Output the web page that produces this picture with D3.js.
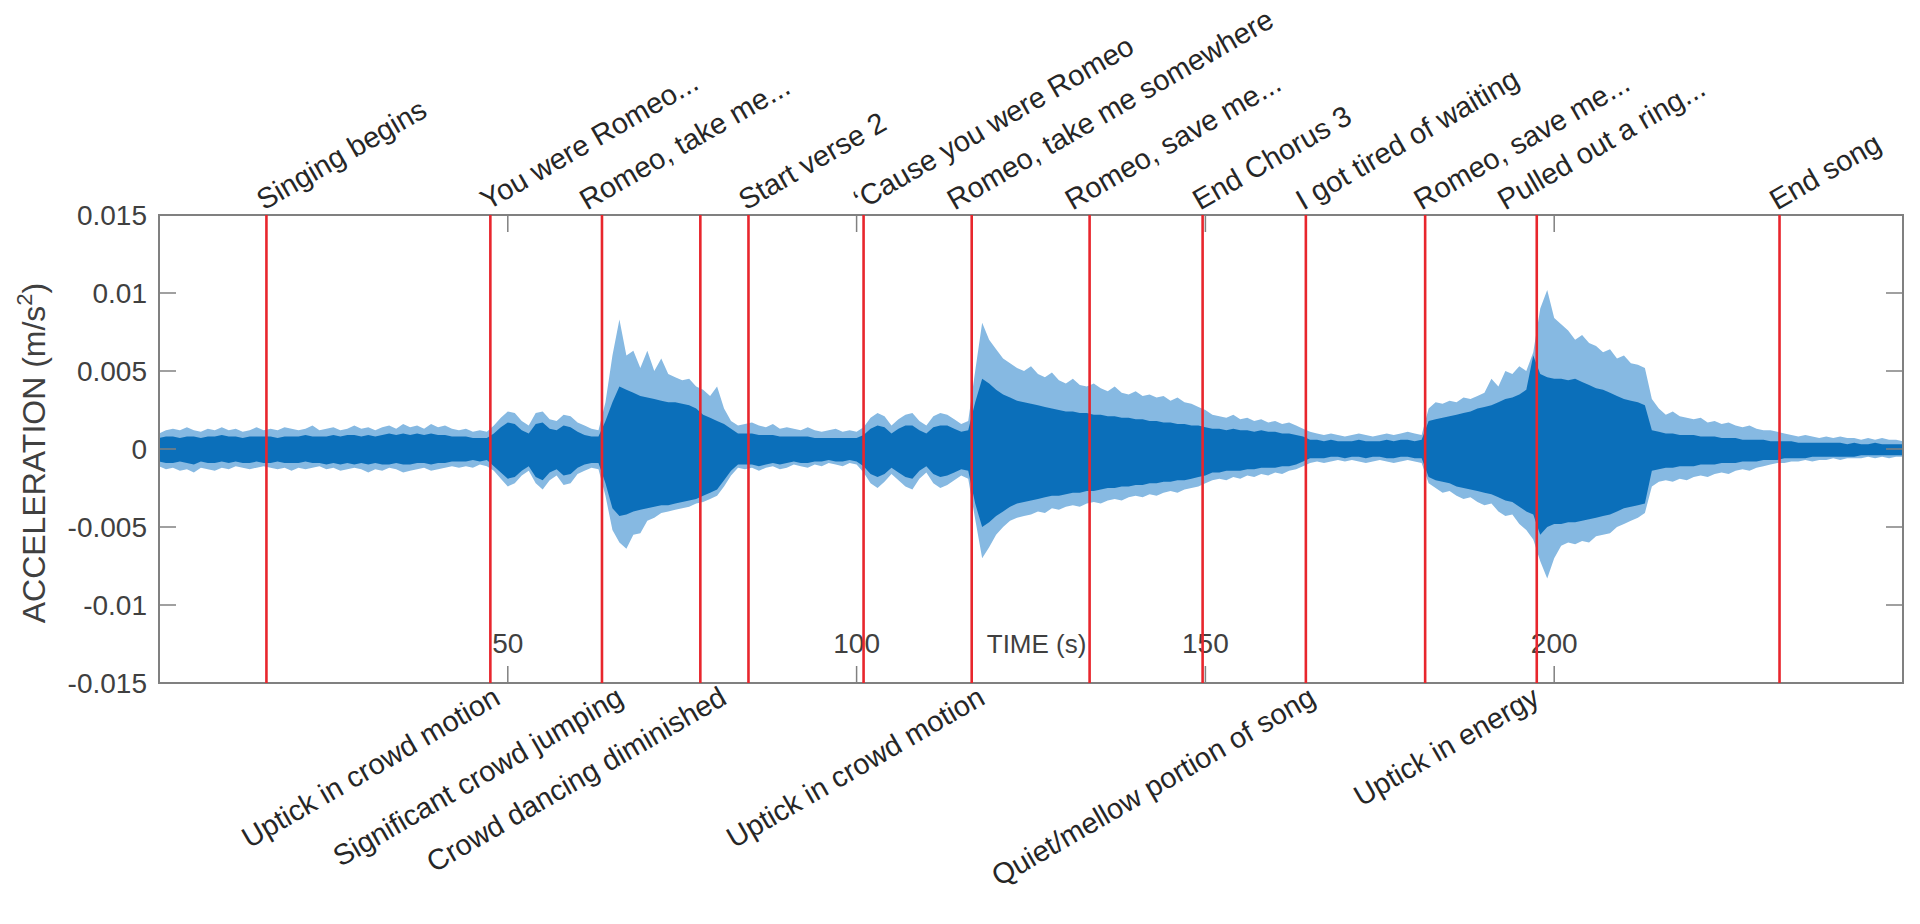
<!DOCTYPE html>
<html lang="en">
<head>
<meta charset="UTF-8">
<title>Crowd acceleration during the song</title>
<script src="https://d3js.org/d3.v7.min.js"></script>
<style>
  body { margin: 0; background: #fff; }
  svg text { font-family: Arial, "Liberation Sans", sans-serif; }
</style>
</head>
<body>
<div id="chart"></div>
<script>
// envelope of the acceleration trace, one value per second (0..250 s),
// in units of 1e-4 m/s^2. "Peak" = outer light spikes, "Core" = dense dark band.
const sampleStep = 1;
const upperPeak = [
  10,12,13,12,14,12,11,13,12,14, 12,13,11,12,14,12,13,12,14,13,
  12,13,15,12,13,14,12,13,15,13, 14,12,14,15,13,16,14,15,13,16,
  14,15,13,12,13,11,12,11,15,20, 24,23,18,15,23,24,19,18,22,21,
  17,15,13,12,30,60,83,60,63,52, 63,50,58,48,46,44,45,40,38,34,
  40,26,18,15,16,17,15,14,16,13, 14,13,12,14,12,11,12,13,11,12,
  11,14,20,23,21,15,19,22,23,18, 15,21,23,22,19,16,18,50,81,70,
  64,58,55,52,50,53,48,46,49,44, 42,45,41,40,42,39,37,40,36,35,
  37,34,35,33,34,31,33,30,29,27, 25,22,21,20,22,19,20,18,19,17,
  18,16,17,15,13,11,10,9,10,9,   8,9,10,9,8,9,10,9,10,11,
  10,9,26,30,29,31,30,33,32,34,  36,45,40,50,48,53,50,62,90,102,
  84,80,76,70,73,68,66,62,64,58, 60,55,54,52,32,26,22,24,21,20,
  19,20,17,18,16,17,15,14,15,13, 12,12,11,10,9,8,9,8,7,8,
  7,8,7,7,6,7,6,7,6,6, 5
];
const lowerPeak = [
  -11,-13,-12,-14,-13,-15,-12,-13,-14,-12, -13,-11,-12,-13,-12,-11,-12,-13,-12,-14,
  -12,-13,-12,-11,-13,-12,-14,-13,-12,-13, -15,-13,-14,-12,-13,-15,-14,-13,-12,-14,
  -13,-12,-11,-12,-11,-12,-10,-11,-14,-19, -24,-22,-17,-14,-22,-26,-20,-17,-23,-22,
  -16,-14,-12,-13,-30,-52,-60,-64,-55,-54, -46,-44,-41,-40,-39,-38,-37,-35,-34,-32,
  -30,-24,-17,-12,-13,-12,-14,-12,-11,-13, -12,-10,-11,-12,-10,-11,-9,-10,-11,-9,
  -10,-15,-22,-25,-21,-16,-20,-24,-26,-19, -15,-22,-25,-23,-20,-17,-19,-45,-70,-63,
  -55,-50,-46,-44,-43,-42,-40,-41,-38,-39, -37,-36,-37,-35,-34,-35,-33,-32,-33,-31,
  -30,-31,-29,-30,-28,-27,-28,-26,-25,-24, -22,-20,-19,-20,-18,-19,-17,-18,-16,-17,
  -15,-16,-14,-13,-11,-9,-8,-9,-8,-7,      -8,-7,-8,-9,-8,-7,-8,-9,-8,-7,
  -8,-9,-22,-25,-28,-27,-30,-32,-31,-34,   -36,-35,-40,-43,-42,-48,-52,-58,-72,-83,
  -70,-62,-60,-61,-59,-60,-56,-55,-54,-50, -48,-46,-44,-41,-24,-21,-20,-21,-19,-20,
  -18,-17,-18,-16,-15,-16,-14,-13,-14,-12, -11,-10,-9,-9,-8,-8,-7,-8,-7,-7,
  -6,-7,-6,-6,-6,-5,-6,-5,-6,-5, -5
];
const upperCore = [
  7,8,8,7,8,8,7,8,8,9,  8,8,7,8,8,8,8,7,8,8,
  8,9,8,8,8,9,8,9,9,8,  9,8,9,10,9,10,9,10,9,10,
  9,9,8,8,8,7,7,7,10,14, 17,16,12,10,16,17,13,12,15,14,
  11,9,8,8,18,30,40,38,36,34, 33,32,31,30,30,29,28,26,22,20,
  18,16,13,10,10,10,9,9,9,8, 8,8,8,8,7,7,7,7,7,7,
  7,9,13,15,14,10,13,15,15,12, 10,14,15,15,13,11,12,30,45,42,
  38,35,33,31,30,29,28,27,26,25, 24,24,23,23,22,22,21,21,20,20,
  19,19,18,18,17,17,16,16,15,15, 14,13,13,12,13,12,12,11,12,11,
  11,10,10,9,8,6,6,5,6,5, 5,5,6,5,5,5,6,5,6,6,
  5,6,18,19,20,21,22,23,24,26, 27,28,30,32,33,35,38,60,48,46,
  45,45,44,45,43,41,39,38,36,34, 32,31,30,28,12,11,10,10,9,9,
  9,8,8,8,7,7,7,6,6,6, 6,5,5,5,5,4,4,4,4,4,
  4,4,3,4,3,3,4,3,3,3, 3
];
const lowerCore = [
  -8,-9,-9,-8,-9,-10,-8,-9,-9,-8, -9,-8,-9,-9,-8,-9,-9,-8,-9,-9,
  -9,-8,-9,-9,-10,-9,-10,-9,-10,-9, -10,-9,-10,-10,-9,-10,-10,-9,-9,-10,
  -9,-9,-8,-8,-8,-7,-8,-7,-11,-15, -19,-18,-14,-11,-18,-20,-15,-13,-17,-16,
  -12,-10,-9,-9,-22,-38,-43,-42,-40,-39, -38,-37,-36,-36,-35,-34,-33,-32,-30,-28,
  -26,-20,-14,-10,-10,-10,-11,-10,-9,-10, -9,-8,-9,-9,-8,-8,-7,-8,-8,-7,
  -8,-11,-16,-18,-16,-12,-15,-18,-19,-14, -11,-16,-18,-17,-15,-13,-14,-35,-50,-47,
  -43,-40,-37,-35,-34,-33,-32,-31,-30,-30, -29,-28,-28,-27,-27,-26,-25,-25,-24,-24,
  -23,-23,-22,-22,-21,-21,-20,-20,-19,-18, -17,-15,-15,-14,-14,-14,-13,-13,-12,-12,
  -12,-11,-11,-10,-8,-6,-6,-6,-5,-5, -6,-5,-5,-6,-5,-5,-6,-6,-5,-5,
  -6,-6,-18,-20,-21,-22,-24,-25,-26,-27, -28,-29,-31,-33,-34,-37,-40,-42,-55,-50,
  -48,-48,-47,-47,-46,-45,-44,-43,-42,-40, -38,-37,-36,-35,-14,-13,-12,-12,-11,-11,
  -11,-10,-10,-10,-9,-9,-9,-8,-8,-8, -7,-7,-7,-6,-6,-6,-6,-5,-5,-5,
  -5,-5,-5,-5,-4,-4,-4,-4,-4,-4, -4
];

// red event markers (s)
const eventTimes = [15.4, 47.5, 63.5, 77.6, 84.5, 101.0, 116.5, 133.4, 149.6, 164.4, 181.5, 197.5, 232.3];

// song annotations above the axes
const topNoteTimes = [15.4, 47.5, 61.7, 84.5, 101.0, 114.4, 131.3, 149.6, 164.4, 181.3, 193.3, 232.3];
const topNoteLabels = ["Singing begins", "You were Romeo...", "Romeo, take me...", "Start verse 2",
  "\u2018Cause you were Romeo", "Romeo, take me somewhere", "Romeo, save me...", "End Chorus 3",
  "I got tired of waiting", "Romeo, save me...", "Pulled out a ring...", "End song"];

// crowd annotations below the axes
const bottomNoteTimes = [47.5, 65.2, 80.0, 117.0, 164.4, 196.5];
const bottomNoteLabels = ["Uptick in crowd motion", "Significant crowd jumping", "Crowd dancing diminished",
  "Uptick in crowd motion", "Quiet/mellow portion of song", "Uptick in energy"];

const xTicks = [50, 100, 150, 200];
const yTicks = [-0.015, -0.01, -0.005, 0, 0.005, 0.01, 0.015];
const yTickLabels = ["-0.015", "-0.01", "-0.005", "0", "0.005", "0.01", "0.015"];

const width = 1920, height = 924;
const margin = { top: 215, right: 17, bottom: 241, left: 159 };

const svg = d3.select("#chart").append("svg")
  .attr("width", width)
  .attr("height", height);

const x = d3.scaleLinear().domain([0, 250]).range([margin.left, width - margin.right]);
const y = d3.scaleLinear().domain([-0.015, 0.015]).range([height - margin.bottom, margin.top]);

const env = upperPeak.map((v, i) => ({
  t: i * sampleStep,
  hiP: v * 1e-4, loP: lowerPeak[i] * 1e-4,
  hiC: upperCore[i] * 1e-4, loC: lowerCore[i] * 1e-4
}));

const tickLen = 17;
const axisColor = "#808080";
const textColor = "#404040";
const noteSize = 29;

// tick labels (drawn first, red markers sit over them)
svg.selectAll(".ylab")
  .data(yTicks)
  .join("text")
  .attr("x", margin.left - 12)
  .attr("y", d => y(d))
  .attr("dy", "0.36em")
  .attr("text-anchor", "end")
  .attr("font-size", 28)
  .attr("fill", textColor)
  .text((d, i) => yTickLabels[i]);

svg.selectAll(".xlab")
  .data(xTicks)
  .join("text")
  .attr("x", d => x(d))
  .attr("y", 653)
  .attr("text-anchor", "middle")
  .attr("font-size", 28)
  .attr("fill", textColor)
  .text(d => d);

svg.append("text")
  .attr("x", x(125.8))
  .attr("y", 653)
  .attr("text-anchor", "middle")
  .attr("font-size", 26)
  .attr("fill", textColor)
  .text("TIME (s)");

const ylab = svg.append("text")
  .attr("transform", `translate(45,453) rotate(-90)`)
  .attr("text-anchor", "middle")
  .attr("font-size", 32)
  .attr("fill", textColor);
ylab.append("tspan").text("ACCELERATION (m/s");
ylab.append("tspan").attr("font-size", 22).attr("dy", -13).text("2");
ylab.append("tspan").attr("dy", 13).text(")");

// acceleration trace: light outer spikes, dark dense core
svg.append("path")
  .datum(env)
  .attr("fill", "#86b9e2")
  .attr("d", d3.area().x(d => x(d.t)).y0(d => y(d.loP)).y1(d => y(d.hiP)));

svg.append("path")
  .datum(env)
  .attr("fill", "#0b6fba")
  .attr("d", d3.area().x(d => x(d.t)).y0(d => y(d.loC)).y1(d => y(d.hiC)));

// axes box and inward ticks
svg.append("rect")
  .attr("x", x(0)).attr("y", y(0.015))
  .attr("width", x(250) - x(0)).attr("height", y(-0.015) - y(0.015))
  .attr("fill", "none").attr("stroke", axisColor).attr("stroke-width", 2);

const ticks = svg.append("g").attr("stroke", axisColor).attr("stroke-width", 1.5);
ticks.selectAll(".yl").data(yTicks).join("line")
  .attr("x1", x(0)).attr("x2", x(0) + tickLen)
  .attr("y1", d => y(d)).attr("y2", d => y(d));
ticks.selectAll(".yr").data(yTicks).join("line")
  .attr("x1", x(250) - tickLen).attr("x2", x(250))
  .attr("y1", d => y(d)).attr("y2", d => y(d));
ticks.selectAll(".xb").data(xTicks).join("line")
  .attr("x1", d => x(d)).attr("x2", d => x(d))
  .attr("y1", y(-0.015)).attr("y2", y(-0.015) - tickLen);
ticks.selectAll(".xt").data(xTicks).join("line")
  .attr("x1", d => x(d)).attr("x2", d => x(d))
  .attr("y1", y(0.015)).attr("y2", y(0.015) + tickLen);

// event markers
svg.selectAll(".event")
  .data(eventTimes)
  .join("line")
  .attr("x1", d => x(d)).attr("x2", d => x(d))
  .attr("y1", y(0.015)).attr("y2", y(-0.015))
  .attr("stroke", "#e8262d")
  .attr("stroke-width", 2.6);

// rotated annotations
svg.selectAll(".topnote")
  .data(topNoteTimes)
  .join("text")
  .attr("transform", d => `translate(${x(d)},${y(0.015)}) rotate(-30)`)
  .attr("y", -5)
  .attr("font-size", noteSize)
  .attr("fill", "#262626")
  .text((d, i) => topNoteLabels[i]);

svg.selectAll(".botnote")
  .data(bottomNoteTimes)
  .join("text")
  .attr("transform", d => `translate(${x(d)},${y(-0.015)}) rotate(-30)`)
  .attr("y", 23)
  .attr("text-anchor", "end")
  .attr("font-size", noteSize)
  .attr("fill", "#262626")
  .text((d, i) => bottomNoteLabels[i]);
</script>
</body>
</html>
